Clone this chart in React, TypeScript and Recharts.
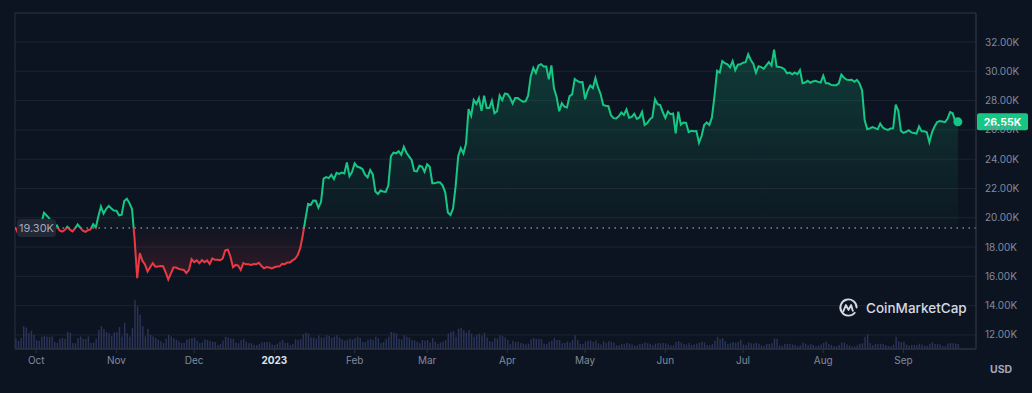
import React from 'react'
import {
  ComposedChart,
  Area,
  Bar,
  XAxis,
  YAxis,
  CartesianGrid,
  ReferenceLine,
  ReferenceArea,
  ReferenceDot,
} from 'recharts'

// daily BTC close in thousands of USD, starting 23 Sep 2022
const pricesSep22 = [19.3, 18.93, 18.8, 19.22, 19.08, 19.41, 19.59, 19.42]
const pricesOct22 = [
  19.31, 19.04, 19.62, 20.34, 20.16, 19.96, 19.53, 19.42, 19.47, 19.13, 19.06, 19.16, 19.38, 19.19, 19.07, 19.27,
  19.55, 19.33, 19.12, 19.04, 19.16, 19.21, 19.57, 19.33, 20.1, 20.77, 20.29, 20.6, 20.81, 20.63, 20.5,
]
const pricesNov22 = [
  20.48, 20.16, 20.21, 21.15, 21.3, 21.0, 20.6, 18.54, 15.88, 17.59, 17.07, 16.81, 16.33, 16.62, 16.9, 16.66,
  16.68, 16.7, 16.69, 16.28, 15.78, 16.19, 16.6, 16.6, 16.52, 16.46, 16.44, 16.22, 16.44, 17.17,
]
const pricesDec22 = [
  16.97, 17.09, 16.89, 17.11, 16.97, 17.09, 16.84, 17.22, 17.13, 17.13, 17.1, 17.21, 17.78, 17.82, 17.36, 16.63,
  16.78, 16.74, 16.44, 16.9, 16.82, 16.83, 16.78, 16.84, 16.83, 16.92, 16.71, 16.55, 16.63, 16.6, 16.54,
]
const pricesJan23 = [
  16.62, 16.67, 16.68, 16.85, 16.83, 16.95, 16.94, 17.09, 17.2, 17.45, 17.94, 18.85, 19.93, 20.95, 20.87, 21.17,
  21.16, 20.69, 21.07, 22.67, 22.78, 22.71, 22.93, 22.64, 23.07, 23.0, 23.08, 23.03, 23.77, 22.84, 23.14,
]
const pricesFeb23 = [
  23.72, 23.49, 23.43, 23.33, 22.94, 22.76, 23.26, 22.96, 21.8, 21.63, 21.86, 21.79, 21.77, 22.2, 24.2, 24.45,
  24.4, 24.55, 24.3, 24.84, 24.44, 24.19, 23.95, 23.2, 23.17, 23.55, 23.49, 23.13,
]
const pricesMar23 = [
  23.65, 23.48, 22.36, 22.35, 22.43, 22.41, 22.2, 21.72, 20.36, 20.19, 20.63, 22.16, 24.2, 24.75, 24.38, 25.05,
  27.42, 26.97, 28.04, 27.77, 28.17, 27.3, 28.33, 27.49, 27.49, 27.99, 27.14, 27.27, 28.35, 28.03, 28.48,
]
const pricesApr23 = [
  28.45, 28.2, 27.8, 28.17, 28.17, 28.04, 27.93, 27.95, 28.33, 29.65, 30.23, 29.89, 30.4, 30.49, 30.32, 30.32,
  29.45, 30.4, 28.82, 28.25, 27.27, 27.82, 27.59, 27.53, 28.31, 28.42, 29.47, 29.34, 29.25, 29.27,
]
const pricesMay23 = [
  28.09, 28.68, 29.03, 28.85, 29.53, 28.9, 28.45, 27.7, 27.65, 27.62, 27.0, 26.8, 26.78, 26.93, 27.19, 27.03,
  27.4, 26.83, 26.89, 27.1, 26.75, 26.85, 27.22, 26.33, 26.47, 26.72, 26.87, 28.09, 27.75, 27.7, 27.22,
]
const pricesJun23 = [
  26.82, 27.25, 27.07, 27.12, 25.76, 27.24, 26.35, 26.5, 26.48, 25.85, 25.94, 25.9, 25.92, 25.12, 25.58, 26.33,
  26.51, 26.34, 26.85, 28.33, 30.03, 29.91, 30.7, 30.55, 30.47, 30.27, 30.7, 30.08, 30.45, 30.48,
]
const pricesJul23 = [
  30.59, 30.62, 31.16, 30.77, 30.51, 29.9, 30.35, 30.29, 30.17, 30.41, 30.62, 30.39, 31.48, 30.32, 30.3, 30.25,
  30.14, 29.86, 29.91, 29.8, 29.91, 29.8, 30.08, 29.18, 29.23, 29.35, 29.22, 29.31, 29.35, 29.28, 29.23,
]
const pricesAug23 = [
  29.7, 29.18, 29.18, 29.07, 29.04, 29.04, 29.18, 29.77, 29.56, 29.43, 29.4, 29.42, 29.28, 29.41, 29.17, 28.7,
  26.66, 26.05, 26.1, 26.19, 26.12, 26.04, 26.43, 26.16, 26.05, 26.0, 26.09, 26.1, 27.73, 27.3, 25.93,
]
const pricesSep23 = [
  25.8, 25.87, 25.97, 25.83, 25.79, 25.75, 26.24, 25.9, 25.9, 25.84, 25.16, 25.84, 26.23, 26.54, 26.6, 26.57,
  26.53, 26.76, 27.21, 27.13, 26.57, 26.55,
]

// daily volume in billions of USD
const volumesSep22 = [26, 20, 27, 56, 53, 40, 45, 35]
const volumesOct22 = [
  22, 20, 30, 32, 31, 30, 31, 17, 15, 25, 27, 25, 42, 40, 15, 14, 27, 31, 25, 25, 31, 15, 16, 25, 47, 56, 49, 42,
  39, 32, 41,
]
const volumesNov22 = [
  41, 54, 31, 64, 39, 31, 52, 120, 105, 84, 56, 31, 49, 35, 31, 27, 23, 19, 15, 25, 35, 31, 27, 23, 19, 15, 15, 23,
  25, 27,
]
const volumesDec22 = [
  28, 20, 14, 16, 24, 22, 20, 18, 17, 10, 12, 21, 30, 28, 26, 25, 16, 14, 22, 25, 18, 15, 14, 10, 9, 12, 16, 17, 17,
  16, 11,
]
const volumesJan23 = [
  10, 13, 18, 22, 15, 16, 10, 12, 24, 22, 24, 36, 40, 38, 28, 28, 25, 33, 28, 28, 34, 32, 27, 30, 34, 28, 24, 20, 23,
  26, 23,
]
const volumesFeb23 = [
  27, 30, 27, 17, 17, 22, 25, 23, 30, 26, 15, 17, 25, 30, 42, 40, 38, 25, 24, 34, 30, 28, 22, 21, 18, 14, 22, 20,
]
const volumesMar23 = [
  22, 16, 27, 18, 12, 16, 18, 22, 38, 42, 44, 30, 50, 52, 46, 40, 46, 38, 30, 35, 38, 33, 40, 28, 19, 18, 27, 26, 34,
  32, 28,
]
const volumesApr23 = [
  22, 12, 20, 17, 18, 15, 13, 11, 13, 24, 27, 25, 25, 24, 13, 12, 18, 20, 27, 22, 22, 14, 15, 18, 16, 22, 34, 22, 13,
  12,
]
const volumesMay23 = [
  18, 20, 21, 17, 21, 14, 11, 19, 15, 19, 18, 16, 9, 9, 13, 12, 15, 13, 11, 8, 9, 12, 13, 16, 14, 12, 10, 13, 15, 14,
  15,
]
const volumesJun23 = [
  14, 11, 9, 9, 17, 19, 16, 12, 11, 15, 10, 11, 13, 15, 18, 16, 10, 9, 12, 20, 30, 24, 27, 19, 12, 14, 17, 15, 17, 23,
]
const volumesJul23 = [
  11, 10, 16, 14, 13, 15, 13, 8, 8, 12, 12, 14, 26, 25, 9, 8, 12, 13, 12, 11, 10, 7, 9, 16, 13, 10, 12, 10, 7, 8, 11,
]
const volumesAug23 = [
  15, 18, 12, 10, 7, 7, 10, 16, 15, 11, 9, 6, 6, 9, 12, 14, 30, 36, 15, 9, 12, 13, 13, 12, 10, 7, 7, 11, 30, 19, 17,
]
const volumesSep23 = [18, 11, 8, 10, 10, 10, 13, 11, 8, 8, 13, 17, 12, 12, 11, 7, 7, 13, 15, 14, 13, 12]

const monthLabels = ['2023', 'Feb', 'Mar', 'Apr', 'May', 'Jun', 'Jul', 'Aug', 'Sep', 'Oct', 'Nov', 'Dec']
const priceTicks = [12, 14, 16, 18, 20, 22, 24, 26, 28, 30, 32]

const BASELINE = 19.3
const LAST_PRICE = 26.55

const START = Date.UTC(2022, 8, 23)
const DAY = 86400000

const Y_MIN = 11.04
const Y_MAX = 33.98
const X_MIN = -0.2
const X_MAX = 371

const CHART_W = 1032
const CHART_H = 393
const MARGIN = { top: 13, right: 0, bottom: 0, left: 15 }
const X_AXIS_H = 44
const PLOT_H = CHART_H - MARGIN.top - X_AXIS_H

const BG = '#0d1421'
const GREEN = '#16c784'
const RED = '#ea3943'
const GRID = '#1d2330'
const BORDER = '#2a2f3d'
const MUTED = '#808a9d'

const prices = [
  ...pricesSep22, ...pricesOct22, ...pricesNov22, ...pricesDec22, ...pricesJan23, ...pricesFeb23,
  ...pricesMar23, ...pricesApr23, ...pricesMay23, ...pricesJun23, ...pricesJul23, ...pricesAug23, ...pricesSep23,
]
const volumes = [
  ...volumesSep22, ...volumesOct22, ...volumesNov22, ...volumesDec22, ...volumesJan23, ...volumesFeb23,
  ...volumesMar23, ...volumesApr23, ...volumesMay23, ...volumesJun23, ...volumesJul23, ...volumesAug23, ...volumesSep23,
]

const data = prices.map((price, i) => ({ day: i, price, volume: volumes[i] ?? 0 }))

const monthTicks = data
  .map((d) => d.day)
  .filter((i) => new Date(START + i * DAY).getUTCDate() === 1)

const tickLabel = (i: number) => monthLabels[new Date(START + i * DAY).getUTCMonth()]

const maxP = Math.max(...prices)
const minP = Math.min(...prices)
const splitOffset = (maxP - BASELINE) / (maxP - minP)

// pixel row of the baseline, for the html badge that must sit above the line
const baselineY = MARGIN.top + ((Y_MAX - BASELINE) / (Y_MAX - Y_MIN)) * PLOT_H

const MonthTick = ({ x, y, payload }: any) => {
  const label = tickLabel(payload.value)
  const isYear = label === '2023'
  return (
    <text
      x={x}
      y={y}
      dy={9}
      textAnchor="middle"
      fontSize={10}
      fontWeight={isYear ? 700 : 400}
      fill={isYear ? '#dfe3ea' : MUTED}
    >
      {label}
    </text>
  )
}

const PriceBadge = ({ viewBox }: any) => {
  if (!viewBox) return null
  const left = viewBox.x + viewBox.width + 1
  return (
    <g>
      <rect x={left} y={viewBox.y - 8.5} width={51} height={17} rx={2} fill={GREEN} />
      <text x={left + 25.5} y={viewBox.y} dy="0.36em" textAnchor="middle" fontSize={10.5} fontWeight={700} fill="#ffffff">
        {`${LAST_PRICE.toFixed(2)}K`}
      </text>
    </g>
  )
}

const Watermark = () => (
  <div
    style={{
      position: 'absolute',
      left: 838,
      top: 297,
      display: 'flex',
      alignItems: 'center',
      gap: 7,
      color: '#d5d9e1',
      fontSize: 13.5,
      fontWeight: 500,
    }}
  >
    <svg width={21} height={21} viewBox="0 0 22 22">
      <path d="M17.5 16.5 A8.5 8.5 0 1 1 19.5 11" fill="none" stroke="#d5d9e1" strokeWidth={2} strokeLinecap="round" />
      <path
        d="M5.5 15 L8.3 8.5 L11 13.5 L13.7 8.5 L15.5 14.5"
        fill="none"
        stroke="#d5d9e1"
        strokeWidth={2}
        strokeLinejoin="round"
        strokeLinecap="round"
      />
    </svg>
    <span>CoinMarketCap</span>
  </div>
)

export default function App() {
  return (
    <div
      style={{
        position: 'fixed',
        left: 0,
        top: 0,
        width: CHART_W,
        height: CHART_H,
        background: BG,
        fontFamily: 'Inter, sans-serif',
      }}
    >
      <ComposedChart width={CHART_W} height={CHART_H} data={data} margin={MARGIN}>
        <defs>
          <linearGradient id="lineGrad" x1="0" y1="0" x2="0" y2="1">
            <stop offset={splitOffset} stopColor={GREEN} />
            <stop offset={splitOffset} stopColor={RED} />
          </linearGradient>
          <linearGradient id="fillGrad" x1="0" y1="0" x2="0" y2="1">
            <stop offset={0} stopColor={GREEN} stopOpacity={0.36} />
            <stop offset={splitOffset} stopColor={GREEN} stopOpacity={0.03} />
            <stop offset={splitOffset} stopColor={RED} stopOpacity={0.03} />
            <stop offset={1} stopColor={RED} stopOpacity={0.3} />
          </linearGradient>
        </defs>
        <CartesianGrid yAxisId="price" vertical={false} stroke={GRID} />
        <XAxis
          dataKey="day"
          type="number"
          domain={[X_MIN, X_MAX]}
          ticks={monthTicks}
          tick={<MonthTick />}
          height={X_AXIS_H}
          tickSize={4}
          tickMargin={2}
          axisLine={{ stroke: BORDER }}
          tickLine={{ stroke: BORDER }}
          allowDataOverflow
        />
        <YAxis
          yAxisId="price"
          orientation="right"
          domain={[Y_MIN, Y_MAX]}
          ticks={priceTicks}
          tickFormatter={(v: number) => `${v.toFixed(2)}K`}
          width={56}
          tickSize={0}
          tickMargin={9}
          tick={{ fontSize: 10, fill: MUTED }}
          axisLine={{ stroke: BORDER }}
          allowDataOverflow
        />
        <YAxis yAxisId="vol" hide domain={[0, 826]} />
        <ReferenceArea
          yAxisId="price"
          x1={X_MIN}
          x2={X_MAX}
          y1={Y_MIN}
          y2={Y_MAX}
          fill="none"
          stroke={BORDER}
          ifOverflow="extendDomain"
        />
        <Bar yAxisId="vol" dataKey="volume" fill="#2b355a" barSize={1.4} isAnimationActive={false} />
        <Area
          yAxisId="price"
          type="linear"
          dataKey="price"
          baseValue={BASELINE}
          stroke="url(#lineGrad)"
          strokeWidth={2}
          fill="url(#fillGrad)"
          dot={false}
          activeDot={false}
          isAnimationActive={false}
        />
        <ReferenceLine yAxisId="price" y={BASELINE} stroke="#7d8497" strokeWidth={1.5} strokeDasharray="1.5 4.5" />
        <ReferenceLine yAxisId="price" y={LAST_PRICE} stroke="none" label={<PriceBadge />} />
        <ReferenceDot yAxisId="price" x={prices.length - 1} y={LAST_PRICE} r={4.5} fill={GREEN} stroke="none" />
      </ComposedChart>
      <div
        style={{
          position: 'absolute',
          left: MARGIN.left + 2,
          top: baselineY - 9,
          width: 39,
          height: 18,
          lineHeight: '18px',
          borderRadius: 4,
          background: '#222836',
          color: '#a1a7bb',
          fontSize: 11,
          textAlign: 'center',
        }}
      >
        {`${BASELINE.toFixed(2)}K`}
      </div>
      <Watermark />
      <div style={{ position: 'absolute', left: 990, top: 363, color: '#a1a7bb', fontSize: 10.5, fontWeight: 700 }}>
        USD
      </div>
    </div>
  )
}
